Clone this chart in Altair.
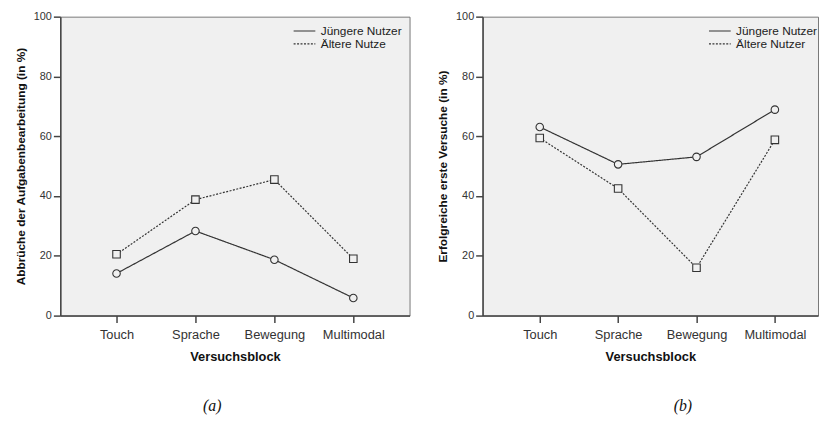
import altair as alt
import pandas as pd

blocks = ["Touch", "Sprache", "Bewegung", "Multimodal"]
groups_a = ["Jüngere Nutzer", "Ältere Nutze"]
groups_b = ["Jüngere Nutzer", "Ältere Nutzer"]

abbruch_jung = [14.1, 28.3, 18.7, 5.9]
abbruch_alt = [20.5, 38.8, 45.5, 19.0]
erfolg_jung = [63.1, 50.6, 53.1, 68.9]
erfolg_alt = [59.4, 42.5, 16.0, 58.8]

y_ticks = [0, 20, 40, 60, 80, 100]


def make_df(groups, jung, alt_vals):
    rows = []
    for b, v in zip(blocks, jung):
        rows.append({"block": b, "group": groups[0], "value": v})
    for b, v in zip(blocks, alt_vals):
        rows.append({"block": b, "group": groups[1], "value": v})
    return pd.DataFrame(rows)


def panel(df, groups, ytitle, caption, width, pad, align, leg_x, cap_dx):
    x = alt.X(
        "block:N",
        sort=blocks,
        scale=alt.Scale(type="point", padding=pad, align=align),
        axis=alt.Axis(title="Versuchsblock", labelAngle=0, labelFontSize=13,
                      titleFontSize=13, titlePadding=10, labelPadding=6),
    )
    y = alt.Y(
        "value:Q",
        scale=alt.Scale(domain=[0, 100], nice=False),
        axis=alt.Axis(title=ytitle, values=y_ticks, labelFontSize=11,
                      titleFontSize=12, titlePadding=6, labelPadding=2),
    )
    line = alt.Chart(df).mark_line(color="#333333", strokeWidth=1.2).encode(
        x=x,
        y=y,
        strokeDash=alt.StrokeDash(
            "group:N",
            scale=alt.Scale(domain=groups, range=[[1, 0], [2, 1.5]]),
            legend=alt.Legend(
                title=None,
                orient="none",
                legendX=leg_x,
                legendY=8,
                symbolType="M-2,0H2",
                symbolSize=121,
                symbolStrokeColor="#333333",
                symbolStrokeWidth=1.2,
                labelFont="Liberation Sans",
                labelFontSize=12,
                labelColor="#222222",
                labelOffset=10,
                rowPadding=0,
            ),
        ),
    )
    pts = alt.Chart(df).mark_point(
        fill="#f0f0f0", stroke="#333333", strokeWidth=1.1, size=58,
        opacity=1, fillOpacity=1,
    ).encode(
        x=x,
        y=y,
        shape=alt.Shape("group:N",
                        scale=alt.Scale(domain=groups, range=["circle", "square"]),
                        legend=None),
    )
    return alt.layer(line, pts).properties(
        width=width,
        height=303,
        title=alt.TitleParams(
            caption, orient="bottom", anchor="middle", dx=cap_dx, offset=35,
            font="Liberation Serif", fontStyle="italic", fontSize=16,
            fontWeight="normal", color="#111111",
        ),
    ).resolve_scale(strokeDash="independent", shape="independent")


df_a = make_df(groups_a, abbruch_jung, abbruch_alt)
df_b = make_df(groups_b, erfolg_jung, erfolg_alt)

left = panel(df_a, groups_a, "Abbrüche der Aufgabenbearbeitung (in %)", "(a)",
             354, 0.7125, 0.5, 241, -23)
right = panel(df_b, groups_b, "Erfolgreiche erste Versuche (in %)", "(b)",
              340, 0.64, 0.57, 234, 33)

chart = alt.hconcat(left, right, spacing=26).resolve_scale(
    strokeDash="independent", shape="independent"
).resolve_legend(strokeDash="independent").properties(
    padding={"left": 6, "top": -1, "right": 0, "bottom": 0}
).configure_view(
    fill="#f0f0f0", stroke="#777777", strokeWidth=1
).configure_axis(
    grid=False,
    domainColor="#444444",
    domainWidth=1.5,
    tickColor="#444444",
    tickWidth=1.5,
    tickSize=7,
    labelFont="Liberation Sans",
    labelColor="#333333",
    titleFont="Liberation Sans",
    titleFontWeight="bold",
    titleColor="#111111",
)

chart.save("out.html", embed_options={"renderer": "svg", "actions": False})
